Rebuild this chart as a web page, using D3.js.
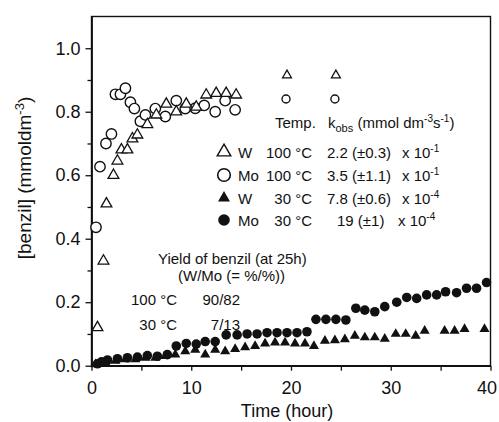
<!DOCTYPE html>
<html>
<head>
<meta charset="utf-8">
<script src="https://cdn.jsdelivr.net/npm/d3@7"></script>
<style>
  html, body { margin: 0; padding: 0; background: #fff; }
  svg { display: block; font-family: "Liberation Sans", Arial, Helvetica, sans-serif; }
</style>
</head>
<body>
<svg id="chart" width="499" height="422"></svg>
<script>
// ---- data (time in hours, [benzil] in mmol dm^-3) ----
const w100Time  = [0.6, 1.2, 1.5, 2.2, 2.6, 3.0, 3.6, 4.1, 4.6, 5.6, 6.5, 7.5, 8.5, 9.5, 10.5, 11.5, 12.5, 13.5, 14.5, 19.6, 24.5];
const w100Value = [0.12, 0.33, 0.51, 0.60, 0.645, 0.68, 0.68, 0.715, 0.727, 0.76, 0.79, 0.824, 0.80, 0.824, 0.815, 0.853, 0.858, 0.858, 0.853, 0.915, 0.915];

const mo100Time  = [0.45, 0.85, 1.45, 2.0, 2.4, 2.9, 3.4, 3.9, 4.3, 4.9, 5.4, 6.4, 7.4, 8.5, 9.4, 10.4, 11.3, 12.4, 13.4, 14.4, 19.5, 24.4];
const mo100Value = [0.436, 0.627, 0.70, 0.73, 0.855, 0.855, 0.874, 0.83, 0.81, 0.77, 0.79, 0.81, 0.785, 0.835, 0.81, 0.811, 0.82, 0.80, 0.835, 0.806, 0.84, 0.84];

const w30Time  = [0.4, 1.4, 2.4, 3.4, 4.4, 5.4, 6.4, 7.4, 8.4, 9.4, 10.4, 11.4, 12.4, 13.4, 14.4, 15.4, 16.4, 17.4, 18.4, 19.4, 20.4, 21.4, 22.3, 23.4, 24.4, 25.4, 26.4, 27.4, 28.4, 29.4, 30.5, 31.5, 32.5, 33.4, 35.4, 36.4, 37.4, 39.4];
const w30Value = [0.004, 0.01, 0.015, 0.02, 0.02, 0.025, 0.025, 0.03, 0.035, 0.045, 0.05, 0.035, 0.05, 0.045, 0.052, 0.058, 0.062, 0.07, 0.073, 0.073, 0.07, 0.07, 0.062, 0.078, 0.08, 0.083, 0.094, 0.089, 0.089, 0.085, 0.10, 0.10, 0.094, 0.11, 0.11, 0.11, 0.115, 0.115];

const mo30Time  = [0.6, 1.0, 1.6, 2.6, 3.6, 4.6, 5.6, 6.6, 7.6, 8.5, 9.5, 10.5, 11.4, 12.4, 13.5, 14.6, 15.6, 16.6, 17.6, 18.6, 19.6, 20.6, 21.6, 22.5, 23.5, 24.5, 25.5, 26.5, 27.4, 28.4, 29.4, 30.6, 31.6, 32.6, 33.6, 34.6, 35.5, 36.6, 37.6, 38.6, 39.6];
const mo30Value = [0.006, 0.012, 0.018, 0.022, 0.025, 0.027, 0.032, 0.03, 0.035, 0.062, 0.07, 0.068, 0.076, 0.076, 0.097, 0.097, 0.10, 0.10, 0.104, 0.104, 0.104, 0.104, 0.107, 0.146, 0.146, 0.146, 0.144, 0.181, 0.175, 0.17, 0.186, 0.20, 0.215, 0.212, 0.223, 0.223, 0.233, 0.23, 0.244, 0.244, 0.262];

const xMajorTicks = [0, 10, 20, 30, 40];
const xMinorTicks = [5, 15, 25, 35];
const yMajorTicks = [0, 0.2, 0.4, 0.6, 0.8, 1.0];
const yMinorTicks = [0.1, 0.3, 0.5, 0.7, 0.9];

const legendMetal = ["W", "Mo", "W", "Mo"];
const legendTemp  = ["100 °C", "100 °C", "30 °C", "30 °C"];
const legendKobs  = ["2.2 (±0.3)", "3.5 (±1.1)", "7.8 (±0.6)", "19 (±1)"];
const legendExp   = ["-1", "-1", "-4", "-4"];
const legendKind  = ["openTri", "openCirc", "fillTri", "fillCirc"];

const yieldTemp  = ["100 °C", "30 °C"];
const yieldRatio = ["90/82", "7/13"];

(function draw() {
  const svg = d3.select("#chart");
  const pL = 91.5, pR = 490.5, pT = 16.5, pB = 365.7;
  const x = d3.scaleLinear().domain([0, 40]).range([pL, pR]);
  const y = d3.scaleLinear().domain([0, 1.1]).range([pB, pT]);
  const ink = "#111";
  const tickFont = 18;

  // frame
  svg.append("rect").attr("x", pL).attr("y", pT).attr("width", pR - pL).attr("height", pB - pT)
    .attr("fill", "none").attr("stroke", ink).attr("stroke-width", 1.4);

  // axes
  const yAxis = svg.append("g").attr("transform", `translate(${pL},0)`)
    .call(d3.axisLeft(y).tickValues(yMajorTicks).tickFormat(d3.format(".1f")).tickSize(6).tickSizeOuter(0).tickPadding(5));
  const yMinor = svg.append("g").attr("transform", `translate(${pL},0)`)
    .call(d3.axisLeft(y).tickValues(yMinorTicks).tickFormat("").tickSize(4).tickSizeOuter(0));
  const xAxis = svg.append("g").attr("transform", `translate(0,${pB})`)
    .call(d3.axisBottom(x).tickValues(xMajorTicks).tickFormat(d3.format("d")).tickSize(5).tickSizeOuter(0).tickPadding(11));
  const xMinor = svg.append("g").attr("transform", `translate(0,${pB})`)
    .call(d3.axisBottom(x).tickValues(xMinorTicks).tickFormat("").tickSize(5).tickSizeOuter(0));

  [yAxis, yMinor, xAxis, xMinor].forEach(g => {
    g.select(".domain").attr("stroke", ink).attr("stroke-width", 1.4);
    g.selectAll(".tick line").attr("stroke", ink).attr("stroke-width", 1.3);
    g.selectAll(".tick text").attr("fill", ink).attr("font-size", tickFont).attr("font-family", '"Liberation Sans", Arial, sans-serif');
  });
  // keep the last x label inside the picture
  xAxis.selectAll(".tick text").filter(d => d === 40).attr("dx", -4);

  // axis titles
  svg.append("text").attr("x", 287).attr("y", 417).attr("text-anchor", "middle")
    .attr("font-size", 18).attr("fill", ink).text("Time (hour)");
  const yt = svg.append("text").attr("transform", "translate(31,178) rotate(-90)").attr("text-anchor", "middle")
    .attr("font-size", 19).attr("fill", ink);
  yt.append("tspan").text("[benzil] (mmoldm");
  yt.append("tspan").attr("dy", -7).attr("font-size", 13).text("-3");
  yt.append("tspan").attr("dy", 7).text(")");

  // ---- markers ----
  const triOpen = d3.symbol().type(d3.symbolTriangle).size(50);
  const triOpenSmall = d3.symbol().type(d3.symbolTriangle).size(34);
  const triFill = d3.symbol().type(d3.symbolTriangle).size(44);

  const pts = (t, v) => t.map((d, i) => ({ t: d, v: v[i] }));

  svg.append("g").selectAll("path").data(pts(w30Time, w30Value)).join("path")
    .attr("d", triFill).attr("transform", d => `translate(${x(d.t)},${y(d.v)})`).attr("fill", ink);
  svg.append("g").selectAll("circle").data(pts(mo30Time, mo30Value)).join("circle")
    .attr("cx", d => x(d.t)).attr("cy", d => y(d.v)).attr("r", 4.8).attr("fill", ink);

  svg.append("g").selectAll("circle").data(pts(mo100Time, mo100Value)).join("circle")
    .attr("cx", d => x(d.t)).attr("cy", d => y(d.v)).attr("r", d => d.t > 15 ? 4 : 5.2)
    .attr("fill", "#fff").attr("stroke", ink).attr("stroke-width", 1.4);
  svg.append("g").selectAll("path").data(pts(w100Time, w100Value)).join("path")
    .attr("d", d => d.t > 15 ? triOpenSmall() : triOpen())
    .attr("transform", d => `translate(${x(d.t)},${y(d.v)})`)
    .attr("fill", "#fff").attr("stroke", ink).attr("stroke-width", 1.3);

  // ---- legend ----
  const lg = svg.append("g").attr("font-size", 15).attr("fill", ink);
  const headY = 128;
  lg.append("text").attr("x", 275).attr("y", headY).text("Temp.");
  const hk = lg.append("text").attr("x", 328).attr("y", headY);
  hk.append("tspan").text("k");
  hk.append("tspan").attr("dy", 4).attr("font-size", 11).text("obs");
  hk.append("tspan").attr("dy", -4).text(" (mmol dm");
  hk.append("tspan").attr("dy", -6).attr("font-size", 10).text("-3");
  hk.append("tspan").attr("dy", 6).text("s");
  hk.append("tspan").attr("dy", -6).attr("font-size", 10).text("-1");
  hk.append("tspan").attr("dy", 6).text(")");

  const rowY = [152, 175, 198, 220];
  legendMetal.forEach((m, i) => {
    const cy = rowY[i];
    const kind = legendKind[i];
    if (kind === "openTri") {
      lg.append("path").attr("d", d3.symbol().type(d3.symbolTriangle).size(80)())
        .attr("transform", `translate(224,${cy})`).attr("fill", "#fff").attr("stroke", ink).attr("stroke-width", 1.4);
    } else if (kind === "openCirc") {
      lg.append("circle").attr("cx", 224).attr("cy", cy).attr("r", 6.3)
        .attr("fill", "#fff").attr("stroke", ink).attr("stroke-width", 1.6);
    } else if (kind === "fillTri") {
      lg.append("path").attr("d", d3.symbol().type(d3.symbolTriangle).size(62)())
        .attr("transform", `translate(224,${cy})`).attr("fill", ink);
    } else {
      lg.append("circle").attr("cx", 224).attr("cy", cy).attr("r", 5.8).attr("fill", ink);
    }
    const by = cy + 5.5;
    lg.append("text").attr("x", 238).attr("y", by).text(m);
    lg.append("text").attr("x", 312).attr("y", by).attr("text-anchor", "end").text(legendTemp[i]);
    lg.append("text").attr("x", i === 3 ? 337 : 327).attr("y", by).text(legendKobs[i]);
    const ex = lg.append("text").attr("x", i === 3 ? 398 : 402).attr("y", by);
    ex.append("tspan").text("x 10");
    ex.append("tspan").attr("dy", -6).attr("font-size", 10).text(legendExp[i]);
  });

  // ---- yield note ----
  const yn = svg.append("g").attr("font-size", 15).attr("fill", ink);
  yn.append("text").attr("x", 158).attr("y", 264).text("Yield of benzil (at 25h)");
  yn.append("text").attr("x", 178).attr("y", 281).text("(W/Mo (= %/%))");
  yieldTemp.forEach((t, i) => {
    const by = 305 + i * 25;
    yn.append("text").attr("x", 177).attr("y", by).attr("text-anchor", "end").text(t);
    yn.append("text").attr("x", 240).attr("y", by).attr("text-anchor", "end").text(yieldRatio[i]);
  });
})();
</script>
</body>
</html>
